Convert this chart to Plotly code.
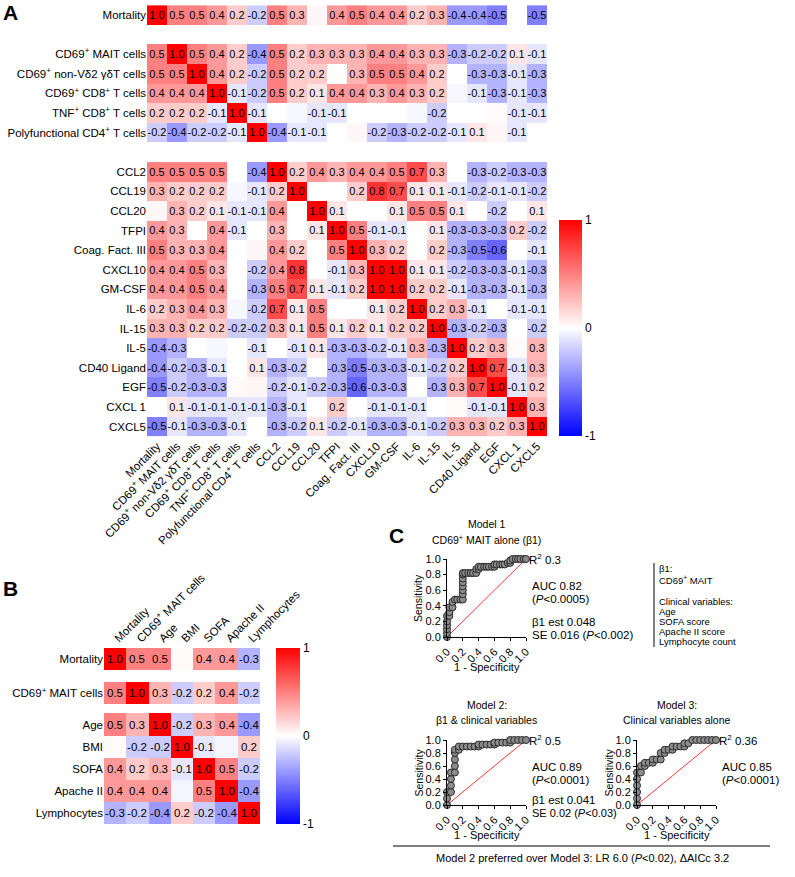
import plotly.graph_objects as go

W, H = 795, 877
FONT = "Arial, 'Liberation Sans', Helvetica, sans-serif"


def px(x):
    return x / W


def py(y):
    return 1 - y / H


# ---------------- Panel A data ----------------
a_labels = [
    "Mortality", "CD69<sup>+</sup> MAIT cells", "CD69<sup>+</sup> non-Vδ2 γδT cells",
    "CD69<sup>+</sup> CD8<sup>+</sup> T cells", "TNF<sup>+</sup> CD8<sup>+</sup> T cells",
    "Polyfunctional CD4<sup>+</sup> T cells", "CCL2", "CCL19", "CCL20", "TFPI",
    "Coag. Fact. III", "CXCL10", "GM-CSF", "IL-6", "IL-15", "IL-5", "CD40 Ligand",
    "EGF", "CXCL 1", "CXCL5",
]
r_mort = [1.0, 0.5, 0.5, 0.4, 0.2, -0.2, 0.5, 0.3, 0.03, 0.4, 0.5, 0.4, 0.4, 0.2, 0.3, -0.4, -0.4, -0.5, 0.0, -0.5]
r_mait = [0.5, 1.0, 0.5, 0.4, 0.2, -0.4, 0.5, 0.2, 0.3, 0.3, 0.3, 0.4, 0.4, 0.3, 0.3, -0.3, -0.2, -0.2, 0.1, -0.1]
r_vd2 = [0.5, 0.5, 1.0, 0.4, 0.2, -0.2, 0.5, 0.2, 0.2, 0.0, 0.3, 0.5, 0.5, 0.4, 0.2, 0.0, -0.3, -0.3, -0.1, -0.3]
r_cd8 = [0.4, 0.4, 0.4, 1.0, -0.1, -0.2, 0.5, 0.2, 0.1, 0.4, 0.4, 0.3, 0.4, 0.3, 0.2, -0.03, -0.1, -0.3, -0.1, -0.3]
r_tnf = [0.2, 0.2, 0.2, -0.1, 1.0, -0.1, 0.0, -0.03, -0.1, -0.1, 0.0, 0.0, 0.0, -0.03, -0.2, 0.0, 0.0, 0.02, -0.1, -0.1]
r_poly = [-0.2, -0.4, -0.2, -0.2, -0.1, 1.0, -0.4, -0.1, -0.1, 0.0, 0.03, -0.2, -0.3, -0.2, -0.2, -0.1, 0.1, 0.03, -0.1, 0.0]
r_ccl2 = [0.5, 0.5, 0.5, 0.5, 0.0, -0.4, 1.0, 0.2, 0.4, 0.3, 0.4, 0.4, 0.5, 0.7, 0.3, 0.0, -0.3, -0.2, -0.3, -0.3]
r_ccl19 = [0.3, 0.2, 0.2, 0.2, -0.03, -0.1, 0.2, 1.0, 0.0, 0.0, 0.2, 0.8, 0.7, 0.1, 0.1, -0.1, -0.2, -0.1, -0.1, -0.2]
r_ccl20 = [0.03, 0.3, 0.2, 0.1, -0.1, -0.1, 0.4, 0.0, 1.0, 0.1, 0.0, 0.0, 0.1, 0.5, 0.5, 0.1, 0.0, -0.2, 0.0, 0.1]
r_tfpi = [0.4, 0.3, 0.0, 0.4, -0.1, 0.0, 0.3, 0.0, 0.1, 1.0, 0.5, -0.1, -0.1, 0.0, 0.1, -0.3, -0.3, -0.3, 0.2, -0.2]
r_coag = [0.5, 0.3, 0.3, 0.4, 0.0, 0.03, 0.4, 0.2, 0.0, 0.5, 1.0, 0.3, 0.2, 0.0, 0.2, -0.3, -0.5, -0.6, 0.0, -0.1]
r_cxcl10 = [0.4, 0.4, 0.5, 0.3, 0.0, -0.2, 0.4, 0.8, 0.0, -0.1, 0.3, 1.0, 1.0, 0.1, 0.1, -0.2, -0.3, -0.3, -0.1, -0.3]
r_gmcsf = [0.4, 0.4, 0.5, 0.4, 0.0, -0.3, 0.5, 0.7, 0.1, -0.1, 0.2, 1.0, 1.0, 0.2, 0.2, -0.1, -0.3, -0.3, -0.1, -0.3]
r_il6 = [0.2, 0.3, 0.4, 0.3, -0.03, -0.2, 0.7, 0.1, 0.5, 0.0, 0.0, 0.1, 0.2, 1.0, 0.2, 0.3, -0.1, 0.0, -0.1, -0.1]
r_il15 = [0.3, 0.3, 0.2, 0.2, -0.2, -0.2, 0.3, 0.1, 0.5, 0.1, 0.2, 0.1, 0.2, 0.2, 1.0, -0.3, -0.2, -0.3, 0.0, -0.2]
r_il5 = [-0.4, -0.3, 0.0, -0.03, 0.0, -0.1, 0.0, -0.1, 0.1, -0.3, -0.3, -0.2, -0.1, 0.3, -0.3, 1.0, 0.2, 0.3, 0.02, 0.3]
r_cd40l = [-0.4, -0.2, -0.3, -0.1, 0.0, 0.1, -0.3, -0.2, 0.0, -0.3, -0.5, -0.3, -0.3, -0.1, -0.2, 0.2, 1.0, 0.7, -0.1, 0.3]
r_egf = [-0.5, -0.2, -0.3, -0.3, 0.02, 0.03, -0.2, -0.1, -0.2, -0.3, -0.6, -0.3, -0.3, 0.0, -0.3, 0.3, 0.7, 1.0, -0.1, 0.2]
r_cxcl1 = [0.0, 0.1, -0.1, -0.1, -0.1, -0.1, -0.3, -0.1, 0.0, 0.2, 0.0, -0.1, -0.1, -0.1, 0.0, 0.02, -0.1, -0.1, 1.0, 0.3]
r_cxcl5 = [-0.5, -0.1, -0.3, -0.3, -0.1, 0.0, -0.3, -0.2, 0.1, -0.2, -0.1, -0.3, -0.3, -0.1, -0.2, 0.3, 0.3, 0.2, 0.3, 1.0]

# None marks the blank spacer rows between blocks
a_rows = [r_mort, None, r_mait, r_vd2, r_cd8, r_tnf, r_poly, None,
          r_ccl2, r_ccl19, r_ccl20, r_tfpi, r_coag, r_cxcl10, r_gmcsf, r_il6,
          r_il15, r_il5, r_cd40l, r_egf, r_cxcl1, r_cxcl5]

# ---------------- Panel B data ----------------
b_labels = ["Mortality", "CD69<sup>+</sup> MAIT cells", "Age", "BMI", "SOFA", "Apache II", "Lymphocytes"]
b_mort = [1.0, 0.5, 0.5, 0.02, 0.4, 0.4, -0.3]
b_mait = [0.5, 1.0, 0.3, -0.2, 0.2, 0.4, -0.2]
b_age = [0.5, 0.3, 1.0, -0.2, 0.3, 0.4, -0.4]
b_bmi = [0.02, -0.2, -0.2, 1.0, -0.1, -0.04, 0.2]
b_sofa = [0.4, 0.2, 0.3, -0.1, 1.0, 0.5, -0.2]
b_apache = [0.4, 0.4, 0.4, -0.04, 0.5, 1.0, -0.4]
b_lymph = [-0.3, -0.2, -0.4, 0.2, -0.2, -0.4, 1.0]
b_rows = [b_mort, None, b_mait, None, b_age, b_bmi, b_sofa, b_apache, b_lymph]
b_row_edges = [0, 1, 1.55, 2.55, 2.96, 3.96, 4.96, 5.96, 6.96, 7.96]

# ---------------- Panel C data (ROC curves) ----------------
m1_fpr = [0, 0, 0, 0, 0, 0, 0.03, 0.03, 0.03, 0.07, 0.07, 0.1, 0.13, 0.17, 0.2, 0.2, 0.2, 0.2, 0.2, 0.2,
          0.2, 0.2, 0.23, 0.27, 0.3, 0.33, 0.37, 0.37, 0.4, 0.4, 0.43, 0.47, 0.5, 0.53, 0.57, 0.6, 0.6,
          0.63, 0.67, 0.7, 0.73, 0.77, 0.8, 0.8, 0.83, 0.87, 0.9, 0.93, 0.97, 1.0]
m1_tpr = [0, 0.05, 0.1, 0.15, 0.2, 0.27, 0.27, 0.32, 0.38, 0.38, 0.45, 0.48, 0.48, 0.48, 0.48, 0.55, 0.6,
          0.65, 0.7, 0.75, 0.8, 0.82, 0.82, 0.82, 0.82, 0.82, 0.82, 0.87, 0.87, 0.9, 0.9, 0.9, 0.9, 0.9,
          0.9, 0.9, 0.93, 0.93, 0.93, 0.93, 0.93, 0.95, 0.95, 0.98, 1, 1, 1, 1, 1, 1]
m2_fpr = [0, 0, 0, 0.05, 0.05, 0.05, 0.05, 0.1, 0.1, 0.1, 0.1, 0.1, 0.15, 0.15, 0.2, 0.25, 0.3, 0.35, 0.4,
          0.4, 0.45, 0.5, 0.55, 0.6, 0.6, 0.65, 0.7, 0.75, 0.8, 0.8, 0.85, 0.9, 0.95, 1.0]
m2_tpr = [0, 0.1, 0.2, 0.2, 0.3, 0.4, 0.5, 0.5, 0.6, 0.7, 0.8, 0.85, 0.85, 0.9, 0.9, 0.9, 0.9, 0.9, 0.9,
          0.93, 0.93, 0.93, 0.93, 0.93, 0.96, 0.96, 0.96, 0.96, 0.96, 1, 1, 1, 1, 1]
m3_fpr = [0, 0, 0, 0, 0, 0, 0.05, 0.05, 0.1, 0.1, 0.15, 0.2, 0.2, 0.25, 0.3, 0.3, 0.35, 0.35, 0.4, 0.45,
          0.45, 0.5, 0.55, 0.6, 0.6, 0.65, 0.7, 0.75, 0.8, 0.85, 0.9, 0.95, 1.0]
m3_tpr = [0, 0.1, 0.2, 0.3, 0.4, 0.5, 0.5, 0.6, 0.6, 0.65, 0.65, 0.65, 0.7, 0.7, 0.7, 0.8, 0.8, 0.85, 0.85,
          0.85, 0.9, 0.9, 0.9, 0.9, 0.95, 0.95, 1, 1, 1, 1, 1, 1, 1]
roc_ticks = [0, 0.2, 0.4, 0.6, 0.8, 1.0]
roc_ticktext = ["0.0", "0.2", "0.4", "0.6", "0.8", "1.0"]

# ---------------- helpers ----------------
CS = [[0, "#0000FF"], [0.5, "#FFFFFF"], [1, "#FF0000"]]


def fmt(v):
    if v is None or abs(v) < 0.05:
        return ""
    return f"{v:.1f}"


def build(rows, n):
    z = [r if r is not None else [None] * n for r in rows]
    t = [[fmt(v) for v in r] for r in z]
    return z, t


za, ta = build(a_rows, 20)
zb, tb = build(b_rows, 7)

fig = go.Figure()

# Panel A heatmap
fig.add_trace(go.Heatmap(
    z=za, x=list(range(20)), y=list(range(len(a_rows))), text=ta, texttemplate="%{text}",
    textfont=dict(size=11, color="black", family=FONT), colorscale=CS, zmin=-1, zmax=1,
    hoverinfo="skip", xaxis="x", yaxis="y",
    colorbar=dict(x=px(559), xanchor="left", y=py(328), yanchor="middle", len=216, lenmode="pixels",
                  thickness=23, thicknessmode="pixels", outlinewidth=0, ticks="",
                  tickvals=[-1, 0, 1], ticktext=["-1", "0", "1"], xpad=0, ypad=0,
                  tickfont=dict(size=12, family=FONT, color="black")),
))

# Panel B heatmap
fig.add_trace(go.Heatmap(
    z=zb, x=list(range(7)), y=b_row_edges, text=tb, texttemplate="%{text}",
    textfont=dict(size=11.5, color="black", family=FONT), colorscale=CS, zmin=-1, zmax=1,
    hoverinfo="skip", xaxis="x2", yaxis="y2",
    colorbar=dict(x=px(276), xanchor="left", y=py(736), yanchor="middle", len=176, lenmode="pixels",
                  thickness=24, thicknessmode="pixels", outlinewidth=0, ticks="",
                  tickvals=[-1, 0, 1], ticktext=["-1", "0", "1"], xpad=0, ypad=0,
                  tickfont=dict(size=12, family=FONT, color="black")),
))

# Panel C ROC curves
rocs = [(m1_fpr, m1_tpr, "x3", "y3"), (m2_fpr, m2_tpr, "x4", "y4"), (m3_fpr, m3_tpr, "x5", "y5")]
for fpr, tpr, xa, ya in rocs:
    fig.add_trace(go.Scatter(x=[0, 1], y=[0, 1], mode="lines", line=dict(color="red", width=0.8),
                             xaxis=xa, yaxis=ya, hoverinfo="skip", showlegend=False, cliponaxis=False))
    fig.add_trace(go.Scatter(x=fpr, y=tpr, mode="lines+markers", line=dict(color="black", width=2.2),
                             marker=dict(size=7, color="#8c8c8c", line=dict(color="#2a2a2a", width=1)),
                             xaxis=xa, yaxis=ya, hoverinfo="skip", showlegend=False, cliponaxis=False))

# ---------------- layout ----------------
a_tickvals = [i for i, r in enumerate(a_rows) if r is not None]
b_tickvals = [(b_row_edges[i] + b_row_edges[i + 1]) / 2 for i, r in enumerate(b_rows) if r is not None]

base = dict(showgrid=False, zeroline=False, automargin=False)
lay = dict(
    template="none",
    width=W, height=H, margin=dict(l=0, r=0, t=0, b=0, pad=0), paper_bgcolor="white", plot_bgcolor="white",
    font=dict(family=FONT, color="black", size=11), showlegend=False,
    xaxis=dict(domain=[px(147), px(547)], range=[-0.5, 19.5], tickvals=list(range(20)), ticktext=a_labels,
               tickangle=-45, ticks="", anchor="y", tickfont=dict(size=11.5), **base),
    yaxis=dict(domain=[py(436.4), py(5.2)], range=[len(a_rows) - 0.5, -0.5], tickvals=a_tickvals,
               ticktext=a_labels, ticks="", anchor="x", tickfont=dict(size=11.5), **base),
    xaxis2=dict(domain=[px(104), px(260)], range=[-0.5, 6.5], tickvals=list(range(7)), ticktext=b_labels,
                side="top", tickangle=-45, ticks="", anchor="y2", tickfont=dict(size=11.5), **base),
    yaxis2=dict(domain=[py(824), py(648)], range=[b_row_edges[-1], 0], tickvals=b_tickvals,
                ticktext=b_labels, ticks="", anchor="x2", tickfont=dict(size=11.5), **base),
)

roc_boxes = {  # (left, right, top, bottom) in px
    3: (447, 526, 559, 637),
    4: (447, 526, 740, 805),
    5: (637, 716, 740, 805),
}
for k, (l, r, t, b) in roc_boxes.items():
    common = dict(range=[0, 1], tickvals=roc_ticks, ticktext=roc_ticktext, ticks="outside", ticklen=3,
                  tickwidth=1, tickcolor="black", showline=True, linecolor="black", linewidth=1,
                  tickfont=dict(size=11), **base)
    lay[f"xaxis{k}"] = dict(domain=[px(l), px(r)], anchor=f"y{k}", tickangle=-45, **common)
    lay[f"yaxis{k}"] = dict(domain=[py(b), py(t)], anchor=f"x{k}", **common)

fig.update_layout(**lay)

ann = []


def A(x, y, text, size=11, xanchor="left", yanchor="middle", **kw):
    ann.append(dict(x=px(x), y=py(y), xref="paper", yref="paper", text=text, showarrow=False,
                    xanchor=xanchor, yanchor=yanchor, font=dict(size=size, family=FONT, color="black"), **kw))


# panel letters
A(1, 12, "<b>A</b>", 21)
A(1, 588, "<b>B</b>", 21)
A(387, 535, "<b>C</b>", 21)

# ROC titles and axis titles
titles = {3: ("Model 1", "CD69<sup>+</sup> MAIT alone (β1)"),
          4: ("Model 2:", "β1 & clinical variables"),
          5: ("Model 3:", "Clinical variables alone")}
for k, (l, r, t, b) in roc_boxes.items():
    cx = (l + r) / 2
    A(cx, t - 35, titles[k][0], 10.5, xanchor="center")
    A(cx, t - 20, titles[k][1], 10.5, xanchor="center")
    A(cx, b + 30, "1 - Specificity", 11, xanchor="center")
    A(l - 29, (t + b) / 2, "Sensitivity", 10.5, xanchor="center", textangle=-90)

ST = 11.5
# Model 1 stats
A(527, 559, "R<sup>2</sup> 0.3", ST)
A(530, 586, "AUC 0.82", ST)
A(530, 599, "(<i>P</i>&lt;0.0005)", ST)
A(530, 622, "β1 est 0.048", ST)
A(530, 635, "SE 0.016 (<i>P</i>&lt;0.002)", ST)
# Model 2 stats
t2 = roc_boxes[4][2]
A(527, t2, "R<sup>2</sup> 0.5", ST)
A(530, t2 + 27, "AUC 0.89", ST)
A(530, t2 + 40, "(<i>P</i>&lt;0.0001)", ST)
A(530, t2 + 60, "β1 est 0.041", ST)
A(530, t2 + 73, "SE 0.02 (<i>P</i>&lt;0.03)", 11)
# Model 3 stats
t3 = roc_boxes[5][2]
A(717, t3, "R<sup>2</sup> 0.36", ST)
A(720, t3 + 27, "AUC 0.85", ST)
A(720, t3 + 40, "(<i>P</i>&lt;0.0001)", ST)

# variable legend box
legend_lines = [(568, "β1:"), (580, "CD69<sup>+</sup> MAIT"), (601, "Clinical variables:"), (611, "Age"),
                (621, "SOFA score"), (631, "Apache II score"), (641, "Lymphocyte count")]
for yy, tx in legend_lines:
    A(657, yy, tx, 9.5)

# bottom comparison line
A(582, 858, "Model 2 preferred over Model 3: LR 6.0 (<i>P</i>&lt;0.02), ΔAICc 3.2", 11, xanchor="center")

shapes = [
    dict(type="line", xref="paper", yref="paper", x0=px(654), x1=px(654), y0=py(563), y1=py(647),
         line=dict(color="black", width=1)),
    dict(type="line", xref="paper", yref="paper", x0=px(393), x1=px(770), y0=py(846), y1=py(846),
         line=dict(color="black", width=1)),
]

fig.update_layout(annotations=ann, shapes=shapes)
fig.write_html("out.html", config={"displayModeBar": False},
               post_script="document.body.style.margin='0px';")
